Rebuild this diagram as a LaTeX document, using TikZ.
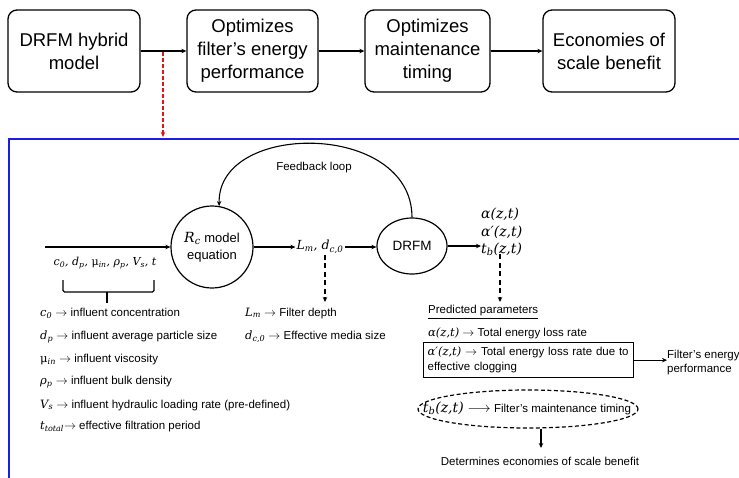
\documentclass[tikz,border=0pt]{standalone}
\usepackage{fontspec}
\setmainfont{Liberation Sans}
\newfontfamily\vfont{DejaVu Serif}
\newcommand\vr[1]{{\vfont\itshape #1}}
\newcommand\sbt[1]{\textsubscript{#1}}
\usetikzlibrary{arrows.meta,shapes.geometric}
\definecolor{frameblue}{RGB}{30,30,225}
\definecolor{linkred}{RGB}{225,20,20}
\begin{document}
\begin{tikzpicture}[x=1pt,y=-1pt,
  topbox/.style={draw, line width=1.3pt, rounded corners=9pt, minimum height=82pt,
    align=center, inner sep=0pt, font=\fontsize{18.5}{23}\selectfont},
  conn/.style={-{Stealth[length=5pt,width=4.5pt]}, line width=1.1pt},
  dashconn/.style={conn, dash pattern=on 5pt off 3.5pt},
  lst/.style={anchor=west, inner sep=0pt, font=\fontsize{11.5}{14}\selectfont},
  small/.style={inner sep=0pt, font=\fontsize{11.5}{14}\selectfont}]
\useasboundingbox (0,0) rectangle (739,477);

% top row
\node[topbox, minimum width=132pt] (b1) at (74,51) {DRFM hybrid\\model};
\node[topbox, minimum width=131pt] (b2) at (252.5,51) {Optimizes\\filter’s energy\\performance};
\node[topbox, minimum width=125pt] (b3) at (427.5,51) {Optimizes\\maintenance\\timing};
\node[topbox, minimum width=132pt] (b4) at (609,51) {Economies of\\scale benefit};
\draw[conn] (b1) -- (b2);
\draw[conn] (b2) -- (b3);
\draw[conn] (b3) -- (b4);

% red link and blue frame
\coordinate (rs) at (163,52);
\coordinate (re) at (163,137);
\draw[linkred, line width=1.1pt, dash pattern=on 4pt off 2pt, -{Stealth[length=5pt,width=4.5pt]}] (rs) -- (re);
\coordinate (fbl) at (8.5,480);
\coordinate (ftl) at (8.5,138.5);
\coordinate (ftr) at (742,138.5);
\draw[frameblue, line width=2pt] (fbl) -- (ftl) -- (ftr);

% Rc model
\node[circle, draw, line width=1.2pt, minimum size=82pt, inner sep=0pt, align=center,
  font=\fontsize{13}{17}\selectfont] (rc) at (212,247) {{\fontsize{14}{17}\selectfont\vr{R\sbt{c}}} model\\equation};
\coordinate (in) at (45,247);
\draw[conn] (in) -- (rc);
\node[inner sep=0pt, font=\fontsize{11}{14}\selectfont] (par) at (105,263)
  {\vr{c\sbt{0}, d\sbt{p}, {\upshape μ}\sbt{in}, ρ\sbt{p}, V\sbt{s}, t}};
\draw[line width=1.2pt, rounded corners=1.5pt] (63,280) -- (63,292) -- (154,292) -- (154,280);
\draw[line width=1.2pt] (107,292) -- (107,303);

\node[lst] (l1) at (40,313) {\vr{c\sbt{0}} $\rightarrow$ influent concentration};
\node[lst] (l2) at (40,337) {\vr{d\sbt{p}} $\rightarrow$ influent average particle size};
\node[lst] (l3) at (40,360) {\vr{{\upshape μ}\sbt{in}} $\rightarrow$ influent viscosity};
\node[lst] (l4) at (40,382) {\vr{ρ\sbt{p}} $\rightarrow$ influent bulk density};
\node[lst] (l5) at (40,405) {\vr{V\sbt{s}} $\rightarrow$ influent hydraulic loading rate (pre-defined)};
\node[lst] (l6) at (40,427) {\vr{t\sbt{total}}$\rightarrow$ effective filtration period};

% Lm
\node[inner sep=1pt, font=\fontsize{12.5}{15}\selectfont] (lm) at (320,247) {\vr{L\sbt{m}, d\sbt{c,0}}};
\draw[conn] (rc) -- (lm);
\coordinate (lmd) at (325,302);
\draw[dashconn] (lm.south -| lmd) -- (lmd);
\node[lst] (r1) at (245,313) {\vr{L\sbt{m}} $\rightarrow$ Filter depth};
\node[lst] (r2) at (245,337) {\vr{d\sbt{c,0}} $\rightarrow$ Effective media size};

% DRFM
\node[ellipse, draw, line width=1.2pt, minimum width=70pt, minimum height=56pt, inner sep=0pt,
  font=\fontsize{13.5}{16}\selectfont] (drfm) at (412,246) {DRFM};
\draw[conn] (lm.east) -- (lm.east -| drfm.west);
\draw[conn] (drfm.north) .. controls (412,121) and (217,121) .. (rc.80);
\node[small] (fb) at (314,168) {Feedback loop};

% outputs
\node[anchor=west, align=left, inner sep=0pt, font=\fontsize{14}{17.5}\selectfont] (out) at (481,232)
  {\vr{α(z,t)}\\\vr{α′(z,t)}\\\vr{t\sbt{b}(z,t)}};
\draw[conn] (drfm) -- (drfm -| out.west);
\coordinate (pd) at (500,302);
\draw[dashconn] ([yshift=2pt]out.south -| pd) -- (pd);

\node[lst] (pp) at (428,312) {\underline{Predicted parameters}};
\node[lst] (a1) at (428,333) {\vr{α(z,t)} $\rightarrow$ Total energy loss rate};
\node[draw, line width=1.3pt, anchor=north west, align=left, text width=202pt, inner xsep=4pt,
  inner ysep=4pt, minimum height=35pt, font=\fontsize{11.5}{15}\selectfont] (bx) at (423,342)
  {\vr{α′(z,t)} $\rightarrow$ Total energy loss rate due to\\effective clogging};
\node[anchor=west, align=left, inner sep=0pt, font=\fontsize{11.5}{14}\selectfont] (fep) at (667,363)
  {Filter’s energy\\performance};
\draw[conn] (bx.east) -- (bx.east -| fep.west);

\node[ellipse, draw, line width=1.2pt, dash pattern=on 4pt off 2.5pt, minimum width=220pt,
  minimum height=38pt, inner sep=0pt] (el) at (528,409) {};
\node[inner sep=0pt, font=\fontsize{11.5}{14}\selectfont] (elt) at (527,408)
  {{\fontsize{14}{16}\selectfont\vr{t\sbt{b}(z,t)} $\longrightarrow$} Filter’s maintenance timing};
\coordinate (db) at (541,448);
\draw[conn] (el.south -| db) -- (db);
\node[small] (det) at (540,461) {Determines economies of scale benefit};
\end{tikzpicture}
\end{document}
